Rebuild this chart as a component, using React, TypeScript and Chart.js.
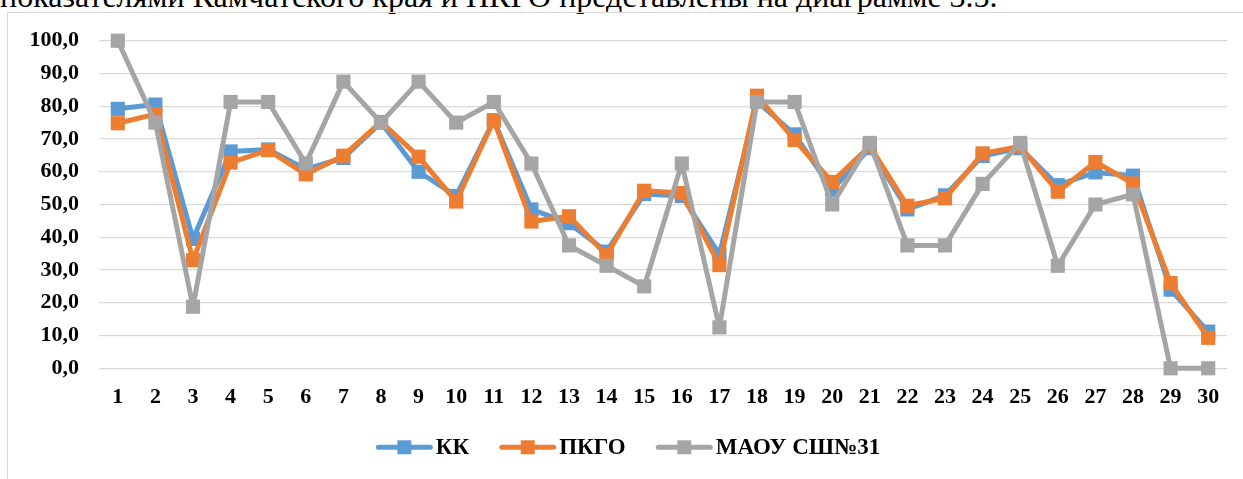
import React, { useEffect, useRef } from 'react';
import { Chart, registerables } from 'chart.js';

Chart.register(...registerables);

const categories = ['1','2','3','4','5','6','7','8','9','10','11','12','13','14','15','16','17','18','19','20','21','22','23','24','25','26','27','28','29','30'];
const seriesNames = ['КК', 'ПКГО', 'МАОУ СШ№31'];
const kkValues = [79.2, 80.5, 39.5, 66.2, 66.8, 60.8, 64.2, 75.0, 60.0, 52.6, 75.7, 48.5, 44.3, 35.6, 53.2, 52.6, 34.8, 81.5, 71.4, 54.5, 67.2, 48.5, 52.8, 64.8, 67.2, 55.9, 59.8, 58.8, 24.0, 11.2];
const pkgoValues = [74.8, 77.6, 33.0, 62.8, 66.6, 59.2, 64.9, 75.2, 64.6, 50.9, 75.7, 44.8, 46.4, 34.5, 54.2, 53.5, 31.5, 83.2, 69.7, 56.9, 67.8, 49.6, 51.9, 65.6, 67.7, 53.9, 63.0, 56.4, 26.0, 9.3];
const maouValues = [100.0, 75.0, 18.8, 81.3, 81.3, 62.5, 87.5, 75.0, 87.5, 75.0, 81.3, 62.5, 37.5, 31.3, 25.0, 62.5, 12.5, 81.3, 81.3, 50.0, 68.8, 37.5, 37.5, 56.3, 68.8, 31.3, 50.0, 53.1, 0.0, 0.0];
const yTicks = [0, 10, 20, 30, 40, 50, 60, 70, 80, 90, 100];
const colors = ['#5B9BD5', '#ED7D31', '#A5A5A5'];
const introText = 'показателями Камчатского края и ПКГО представлены на диаграмме 3.5.';

const FONT = '"Liberation Serif", "Times New Roman", serif';

const legendPlugin = {
  id: 'customLegend',
  afterDraw(chart: any) {
    const ctx = chart.ctx as CanvasRenderingContext2D;
    ctx.save();
    ctx.font = `bold 23px ${FONT}`;
    const lineW = 57;
    const gapText = 3;
    const gapItem = 30;
    const widths = seriesNames.map((n) => lineW + gapText + ctx.measureText(n).width);
    const total = widths.reduce((a, b) => a + b, 0) + gapItem * (widths.length - 1);
    const area = chart.chartArea;
    let x = (area.left + area.right) / 2 - 35 - total / 2;
    const y = area.bottom + 79;
    seriesNames.forEach((name, i) => {
      ctx.strokeStyle = colors[i];
      ctx.fillStyle = colors[i];
      ctx.lineWidth = 5;
      ctx.lineCap = 'round';
      ctx.beginPath();
      ctx.moveTo(x + 2.5, y);
      ctx.lineTo(x + lineW - 2.5, y);
      ctx.stroke();
      ctx.fillRect(x + lineW / 2 - 7, y - 7, 14, 14);
      ctx.fillStyle = '#000';
      ctx.textBaseline = 'middle';
      ctx.textAlign = 'left';
      ctx.fillText(name, x + lineW + gapText, y + 1);
      x += widths[i] + gapItem;
    });
    ctx.restore();
  },
};

export default function App() {
  const ref = useRef<HTMLCanvasElement | null>(null);

  useEffect(() => {
    if (!ref.current) return;
    const mk = (label: string, data: number[], color: string, order: number) => ({
      label,
      data,
      borderColor: color,
      backgroundColor: color,
      borderWidth: 5,
      borderJoinStyle: 'round' as const,
      borderCapStyle: 'round' as const,
      pointStyle: 'rect' as const,
      pointRadius: 10,
      pointBorderWidth: 0,
      pointBackgroundColor: color,
      tension: 0,
      clip: false as const,
      order,
    });
    const chart = new Chart(ref.current, {
      type: 'line',
      data: {
        labels: categories,
        datasets: [
          mk(seriesNames[0], kkValues, colors[0], 2),
          mk(seriesNames[1], pkgoValues, colors[1], 1),
          mk(seriesNames[2], maouValues, colors[2], 0),
        ],
      },
      options: {
        responsive: false,
        animation: false,
        layout: { padding: { left: 0, right: 16, top: 40.7, bottom: 0 } },
        plugins: {
          legend: { display: false },
          tooltip: { enabled: false },
        },
        scales: {
          x: {
            type: 'category',
            offset: true,
            grid: { display: false, drawTicks: false },
            border: { display: false },
            ticks: {
              color: '#000',
              font: { family: FONT, size: 22, weight: 'bold' },
              padding: 16,
              maxRotation: 0,
              autoSkip: false,
            },
            afterFit: (s: any) => { s.height = 110.7; },
          },
          y: {
            min: 0,
            max: 100,
            afterBuildTicks: (s: any) => { s.ticks = yTicks.map((v) => ({ value: v })); },
            grid: { color: '#D9D9D9', lineWidth: 1.3, drawTicks: false },
            border: { display: false },
            ticks: {
              color: '#000',
              font: { family: FONT, size: 22, weight: 'bold' },
              padding: 20,
              callback: (v: any) => Number(v).toFixed(1).replace('.', ','),
            },
            afterFit: (s: any) => { s.width = 99; },
          },
        },
      },
      plugins: [legendPlugin],
    });
    return () => chart.destroy();
  }, []);

  return (
    <div style={{ position: 'fixed', left: 0, top: 0, width: 1243, height: 479, overflow: 'hidden', background: '#fff' }}>
      <div style={{ position: 'absolute', left: 0, top: -20, whiteSpace: 'nowrap', fontFamily: FONT, fontSize: 32, lineHeight: '32px', color: '#000' }}>
        {introText}
      </div>
      <div style={{ position: 'absolute', left: 7, top: 12, width: 1300, height: 600, border: '1px solid #D9D9D9', boxSizing: 'border-box' }} />
      <canvas ref={ref} width={1243} height={479} style={{ position: 'absolute', left: 0, top: 0, width: 1243, height: 479 }} />
    </div>
  );
}
